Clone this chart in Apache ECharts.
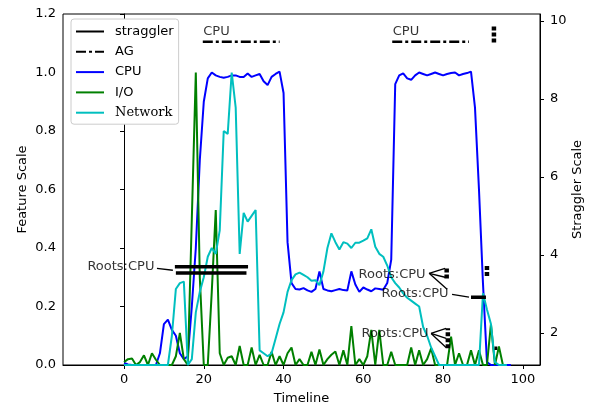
<!DOCTYPE html>
<html>
<head>
<meta charset="utf-8">
<script src="https://cdn.jsdelivr.net/npm/echarts@6/dist/echarts.min.js"></script>
<style>
html,body{margin:0;padding:0;background:#fff;}
#chart{width:600px;height:406px;}
</style>
</head>
<body>
<div id="chart"></div>
<script>
// ---------------- data ----------------
const xTicks = [0, 20, 40, 60, 80, 100];
const stragglerTicks = [2, 4, 6, 8, 10];
const legendNames = ['straggler', 'AG', 'CPU', 'I/O', 'Network'];

// feature values, one per timeline step (x = 0,1,2,...)
const cpu = [0.007,0.002,0,0,0,0,0,0,0.0,0.04,
  0.14,0.155,0.12,0.1,0.04,0.02,0.03,0.2,0.4,0.7,
  0.9,0.98,1.0,0.99,0.985,0.982,0.985,0.99,0.99,0.985,
  0.985,0.997,0.985,0.99,0.995,0.97,0.957,0.985,0.995,1.003,
  0.93,0.42,0.28,0.26,0.258,0.263,0.255,0.25,0.26,0.32,
  0.26,0.255,0.252,0.256,0.26,0.256,0.255,0.32,0.275,0.25,
  0.265,0.258,0.252,0.262,0.26,0.257,0.28,0.36,0.96,0.99,
  0.997,0.98,0.975,0.99,1.0,0.995,0.99,0.995,1.0,0.995,
  0.99,0.995,0.998,1.0,0.99,0.995,0.998,1.003,0.88,0.6,
  0.28,0.01,0,0,0,0,0,0];
const io = [0.01,0.02,0.022,0.0,0.01,0.033,0.0,0.04,0.018,0.0,
  0.0,0.0,0.0,0.03,0.11,0.02,0.0,0.5,1.0,0.3,
  0.0,0.0,0.25,0.53,0.04,0.0,0.025,0.03,0.0,0.065,
  0.0,0.0,0.06,0.0,0.035,0.0,0.0,0.045,0.0,0.03,
  0.0,0.04,0.06,0.0,0.02,0.0,0.0,0.045,0.0,0.053,
  0.0,0.02,0.035,0.046,0.0,0.05,0.0,0.133,0.0,0.02,
  0.0,0.03,0.12,0.0,0.12,0.0,0.0,0.045,0.0,0.0,
  0.0,0.0,0.06,0.0,0.05,0.0,0.02,0.057,0.0,0.0,
  0.0,0.0,0.097,0.0,0.04,0.0,0.0,0.05,0.0,0.05,
  0.0,0.0,0.14,0.0,0.063,0.0];
const network = [0,0,0,0,0,0,0,0,0,0,
  0,0,0.1,0.26,0.28,0.285,0.0,0.02,0.18,0.25,
  0.3,0.37,0.4,0.38,0.46,0.8,0.79,1.0,0.88,0.38,
  0.52,0.49,0.51,0.53,0.05,0.04,0.03,0.04,0.09,0.14,
  0.18,0.25,0.29,0.31,0.316,0.308,0.3,0.288,0.29,0.273,
  0.32,0.4,0.45,0.42,0.395,0.42,0.415,0.40,0.418,0.418,
  0.425,0.433,0.464,0.404,0.38,0.37,0.34,0.30,0.28,0.265,
  0.245,0.23,0.22,0.21,0.2,0.13,0.1,0.06,0.03,0.0,
  0,0,0,0,0,0,0,0,0,0,
  0.245,0.19,0.14,0.01,0,0,0];

// straggler segments (straggler scale)
const stragglerStart = [12.75, 13.0, 87.0, 92.9];
const stragglerEnd   = [31.1, 30.7, 90.75, 93.6];
const stragglerLevel = [3.70, 3.54, 2.92, 1.61];

// AG segments
const agStart = [19.75, 67.25];
const agEnd   = [39.0, 86.5];
const agLevel = [9.47, 9.47];
const agPhase = ['CPU', 'CPU'];
const agPhaseLevel = [9.73, 9.73];

// short vertical AG marks
const agMarkX    = [92.75, 80.9, 91.0, 81.2];
const agMarkLow  = [9.45, 3.40, 3.46, 1.61];
const agMarkHigh = [9.86, 3.66, 3.74, 2.12];

// root annotations: text anchor (right end) and arrows
const rootText = ['Roots:CPU', 'Roots:CPU', 'Roots:CPU', 'Roots:CPU'];
const rootX = [7.75, 75.75, 81.5, 76.5];
const rootY = [3.69, 3.51, 3.00, 1.98];
const arrowFromX = [8.25, 76.5, 76.5, 76.5, 82.25, 77.0, 77.0, 77.0];
const arrowFromY = [3.66, 3.53, 3.53, 3.53, 2.99, 1.99, 1.99, 1.99];
const arrowToX   = [12.25, 80.5, 80.5, 81.0, 86.5, 80.75, 80.75, 80.75];
const arrowToY   = [3.61, 3.66, 3.43, 3.12, 2.92, 2.12, 1.86, 1.63];

// ---------------- chart ----------------
const FONT = 'DejaVu Sans';
const chart = echarts.init(document.getElementById('chart'), null, {renderer: 'canvas'});
const pairs = arr => arr.map((v, i) => [i, v]);

const series = [
  {name: 'CPU', type: 'line', data: pairs(cpu), showSymbol: false, symbol: 'none',
   lineStyle: {color: '#0000ff', width: 2}, itemStyle: {color: '#0000ff'}, z: 3},
  {name: 'I/O', type: 'line', data: pairs(io), showSymbol: false, symbol: 'none',
   lineStyle: {color: '#008000', width: 2}, itemStyle: {color: '#008000'}, z: 4},
  {name: 'Network', type: 'line', data: pairs(network), showSymbol: false, symbol: 'none',
   lineStyle: {color: '#00bfbf', width: 2}, itemStyle: {color: '#00bfbf'}, z: 5}
];
stragglerStart.forEach((s, i) => {
  series.push({name: 'straggler', type: 'line', yAxisIndex: 1, symbol: 'none', z: 6,
    data: [[s, stragglerLevel[i]], [stragglerEnd[i], stragglerLevel[i]]],
    lineStyle: {color: '#000', width: 3.5}, itemStyle: {color: '#000'}});
});
agStart.forEach((s, i) => {
  series.push({name: 'AG', type: 'line', yAxisIndex: 1, symbol: 'none', z: 6,
    data: [[s, agLevel[i]], [agEnd[i], agLevel[i]]],
    lineStyle: {color: '#000', width: 2.5, type: [10, 3, 3, 3]}, itemStyle: {color: '#000'}});
});
agMarkX.forEach((x, i) => {
  series.push({name: 'AG', type: 'line', yAxisIndex: 1, symbol: 'none', z: 6,
    data: [[x, agMarkLow[i]], [x, agMarkHigh[i]]],
    lineStyle: {color: '#000', width: 4.5, type: [4, 2]}, itemStyle: {color: '#000'}});
});
// phase labels
series.push({type: 'scatter', yAxisIndex: 1, symbolSize: 1, itemStyle: {color: 'rgba(0,0,0,0)'},
  data: agStart.map((s, i) => ({value: [s, agPhaseLevel[i]], txt: agPhase[i]})),
  label: {show: true, position: 'right', distance: 0, color: '#000', fontFamily: FONT, fontSize: 13,
    formatter: p => p.data.txt}, z: 7, silent: true});
// root labels + arrows
series.push({type: 'scatter', yAxisIndex: 1, symbolSize: 1, itemStyle: {color: 'rgba(0,0,0,0)'},
  data: rootX.map((x, i) => ({value: [x, rootY[i]], txt: rootText[i]})),
  label: {show: true, position: 'left', distance: 0, color: '#000', fontFamily: FONT, fontSize: 13,
    formatter: p => p.data.txt}, z: 7, silent: true,
  markLine: {silent: true, animation: false, symbol: ['none', 'arrow'], symbolSize: [0, 7],
    lineStyle: {color: '#000', type: 'solid', width: 1.3}, label: {show: false},
    data: arrowFromX.map((x, i) => [{coord: [x, arrowFromY[i]]}, {coord: [arrowToX[i], arrowToY[i]]}])}
});

const axisCommon = {
  axisLine: {show: true, lineStyle: {color: '#000', width: 1}},
  axisTick: {show: true, inside: false, length: 4, lineStyle: {color: '#000'}},
  splitLine: {show: false},
  nameMoveOverlap: false,
  nameTextStyle: {color: '#000', fontFamily: FONT, fontSize: 13}
};

chart.setOption({
  animation: false,
  backgroundColor: '#fff',
  grid: {left: 63, right: 60, top: 14, bottom: 41, containLabel: false, outerBoundsMode: 'none',
    show: true, borderColor: '#000', borderWidth: 1},
  legend: {
    data: legendNames, orient: 'vertical', left: 71, top: 19,
    itemWidth: 28, itemHeight: 14, itemGap: 7.3,
    padding: [6, 5, 5, 4],
    itemStyle: {opacity: 0},
    backgroundColor: '#fff', borderColor: '#cccccc', borderWidth: 1, borderRadius: 3,
    textStyle: {color: '#000', fontFamily: FONT, fontSize: 13, padding: [0, 0, 0, 6],
      rich: {s: {fontFamily: 'DejaVu Serif', fontSize: 13, color: '#000'}}},
    formatter: n => n === 'Network' ? '{s|Network}' : n
  },
  xAxis: Object.assign({}, axisCommon, {
    type: 'value', min: -15.3, max: 104.3,
    name: 'Timeline', nameLocation: 'middle', nameGap: 27,
    axisTick: Object.assign({}, axisCommon.axisTick, {customValues: xTicks}),
    axisLabel: {customValues: xTicks, color: '#000', fontFamily: FONT, fontSize: 13, margin: 8}
  }),
  yAxis: [
    Object.assign({}, axisCommon, {
      type: 'value', min: 0, max: 1.2, interval: 0.2, position: 'left',
      name: 'Feature Scale', nameLocation: 'middle', nameGap: 34,
      axisLabel: {color: '#000', fontFamily: FONT, fontSize: 13, margin: 7, formatter: v => v.toFixed(1)}
    }),
    Object.assign({}, axisCommon, {
      type: 'value', min: 1.18, max: 10.18, position: 'right',
      name: 'Straggler Scale', nameLocation: 'middle', nameGap: 31,
      axisTick: Object.assign({}, axisCommon.axisTick, {customValues: stragglerTicks}),
      axisLabel: {customValues: stragglerTicks, color: '#000', fontFamily: FONT, fontSize: 13, margin: 10}
    })
  ],
  series: series
});
</script>
</body>
</html>
